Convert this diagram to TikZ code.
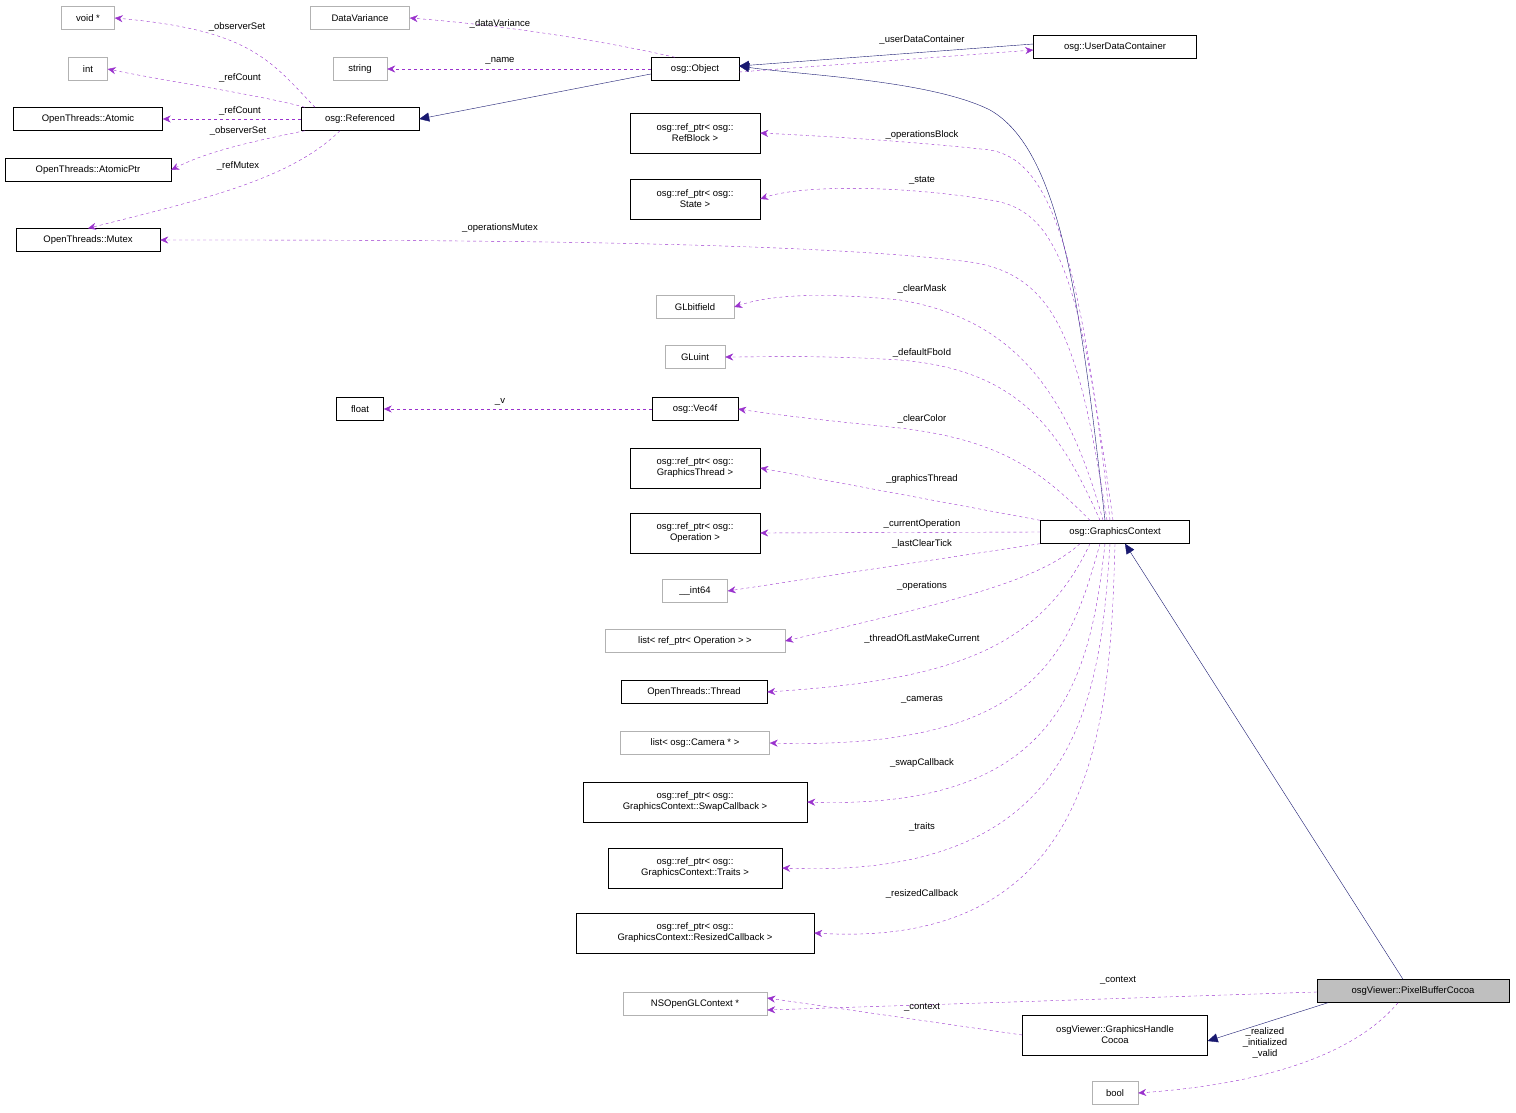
\documentclass[tikz,border=0pt]{standalone}
\usepackage{fontspec}
\setmainfont{Liberation Sans}
\usetikzlibrary{arrows.meta}
\definecolor{mem}{HTML}{9A32CD}
\definecolor{inh}{HTML}{191970}
\begin{document}
\begin{tikzpicture}[x=1pt,y=-1pt,font=\fontsize{9.5}{11}\selectfont,
 cls/.style={draw=black,fill=white,minimum height=23,inner sep=2,align=center},
 gcls/.style={cls,draw=black!30},
 twol/.style={cls,minimum height=40},
 memb/.style={draw=mem,dashed,-{Stealth[length=8,width=7]}},
 inher/.style={draw=inh,-{Triangle[length=10,width=9,fill=inh]}},
 lab/.style={inner sep=0,align=center}]
\useasboundingbox (0,0) rectangle (1516,1113);
\node[gcls,minimum width=53] (void) at (88,18) {void *};
\node[gcls,minimum width=39] (int) at (88,69) {int};
\node[cls,minimum width=149] (atomic) at (88,119) {OpenThreads::Atomic};
\node[cls,minimum width=166] (atomicptr) at (88,170) {OpenThreads::AtomicPtr};
\node[cls,minimum width=144] (mutex) at (88,240) {OpenThreads::Mutex};
\node[cls,minimum width=118] (ref) at (360,119) {osg::Referenced};
\node[gcls,minimum width=99] (dv) at (360,18) {DataVariance};
\node[gcls,minimum width=54] (str) at (360,69) {string};
\node[cls,minimum width=47] (float) at (360,409) {float};
\node[cls,minimum width=88] (obj) at (695,69) {osg::Object};
\node[cls,minimum width=163] (udc) at (1115,47) {osg::UserDataContainer};
\node[twol,minimum width=130] (rb) at (695,133) {osg::ref\_ptr< osg::\\RefBlock >};
\node[twol,minimum width=130] (st) at (695,199) {osg::ref\_ptr< osg::\\State >};
\node[gcls,minimum width=78] (glb) at (695,307) {GLbitfield};
\node[gcls,minimum width=60] (glu) at (695,357) {GLuint};
\node[cls,minimum width=86] (vec) at (695,409) {osg::Vec4f};
\node[twol,minimum width=130] (gt) at (695,468) {osg::ref\_ptr< osg::\\GraphicsThread >};
\node[twol,minimum width=130] (op) at (695,533) {osg::ref\_ptr< osg::\\Operation >};
\node[gcls,minimum width=65] (i64) at (695,591) {\_\_int64};
\node[gcls,minimum width=180] (lop) at (695,641) {list< ref\_ptr< Operation > >};
\node[cls,minimum width=146] (thr) at (694,692) {OpenThreads::Thread};
\node[gcls,minimum width=149] (lcam) at (695,743) {list< osg::Camera * >};
\node[twol,minimum width=224] (swap) at (695,802) {osg::ref\_ptr< osg::\\GraphicsContext::SwapCallback >};
\node[twol,minimum width=174] (tr) at (695,868) {osg::ref\_ptr< osg::\\GraphicsContext::Traits >};
\node[twol,minimum width=238] (rs) at (695,933) {osg::ref\_ptr< osg::\\GraphicsContext::ResizedCallback >};
\node[gcls,minimum width=144] (ns) at (695,1004) {NSOpenGLContext *};
\node[gcls,minimum width=46] (bool) at (1115,1093) {bool};
\node[cls,minimum width=149] (gc) at (1115,532) {osg::GraphicsContext};
\node[twol,minimum width=185] (ghc) at (1115,1035) {osgViewer::GraphicsHandle\\Cocoa};
\node[cls,minimum width=192,fill=black!25] (pbc) at (1413,991) {osgViewer::PixelBufferCocoa};

% Referenced members
\draw[memb] ([xshift=-45]ref.north) .. controls (270,60) and (250,30) .. (void.east);
\draw[memb] ([xshift=-55]ref.north) .. controls (260,95) and (160,80) .. (int.east);
\draw[memb] (ref.west) -- (atomic.east);
\draw[memb] ([xshift=-55]ref.south) .. controls (260,140) and (210,150) .. (atomicptr.east);
\draw[memb] ([xshift=-20]ref.south) .. controls (290,180) and (200,200) .. (mutex.north);
% Object
\draw[memb] ([xshift=-20]obj.north) .. controls (600,40) and (500,25) .. (dv.east);
\draw[memb] (obj.west) -- (str.east);
\draw[inher] (obj.west) ++(0,5) coordinate (o1) (o1) -- (ref.east);
\draw[memb] ([yshift=-3]obj.east) -- ([yshift=-3]udc.west);
\draw[inher] ([yshift=3]udc.west) -- ([yshift=3]obj.east);
\draw[inher] ([xshift=-10]gc.north) .. controls (1080,300) and (1060,150) .. (990,110) .. controls (930,80) and (800,75) .. ([yshift=3]obj.east);
% GraphicsContext members
\draw[memb] ([xshift=-5]gc.north) .. controls (1080,250) and (1050,160) .. (990,150) .. controls (900,140) and (800,135) .. (rb.east);
\draw[memb] ([xshift=-2]gc.north) .. controls (1080,280) and (1060,210) .. (990,200) .. controls (900,185) and (800,185) .. (st.east);
\draw[memb] ([xshift=-8]gc.north) .. controls (1080,350) and (1060,275) .. (970,262) .. controls (800,240) and (400,240) .. (mutex.east);
\draw[memb] ([xshift=-12]gc.north) .. controls (1070,400) and (1020,320) .. (900,300) .. controls (820,292) and (770,295) .. (glb.east);
\draw[memb] ([xshift=-15]gc.north) .. controls (1060,430) and (1020,370) .. (900,360) .. controls (820,355) and (760,357) .. (glu.east);
\draw[memb] (vec.west) -- (float.east);
\draw[memb] ([xshift=-25]gc.north) .. controls (1040,470) and (1000,440) .. (900,428) .. controls (820,420) and (770,414) .. (vec.east);
\draw[memb] ([xshift=-75]gc.north) -- (gt.east);
\draw[memb] (gc.west) -- (op.east);
\draw[memb] ([xshift=-75]gc.south) -- (i64.east);
\draw[memb] ([xshift=-35]gc.south) .. controls (1040,580) and (960,600) .. (lop.east);
\draw[memb] ([xshift=-25]gc.south) .. controls (1040,650) and (950,680) .. (thr.east);
\draw[memb] ([xshift=-15]gc.south) .. controls (1070,650) and (1040,750) .. (lcam.east);
\draw[memb] ([xshift=-10]gc.south) .. controls (1090,680) and (1060,810) .. (swap.east);
\draw[memb] ([xshift=-5]gc.south) .. controls (1100,700) and (1080,880) .. (tr.east);
\draw[memb] ([xshift=0]gc.south) .. controls (1110,720) and (1100,950) .. (rs.east);
% PixelBufferCocoa
\draw[inher] ([xshift=-10]pbc.north) -- ([xshift=10]gc.south);
\draw[inher] ([xshift=-85]pbc.south) -- ([yshift=-6]ghc.east);
\draw[memb] ([yshift=-1]pbc.west) -- ([yshift=-6]ns.east);
\draw[memb] (ghc.west) -- ([yshift=6]ns.east);
\draw[memb] ([xshift=-15]pbc.south) .. controls (1350,1060) and (1250,1085) .. (bool.east);
% labels
\node[lab] at (237,27) {\_observerSet};
\node[lab] at (240,78) {\_refCount};
\node[lab] at (240,111) {\_refCount};
\node[lab] at (238,131) {\_observerSet};
\node[lab] at (238,166) {\_refMutex};
\node[lab] at (500,24) {\_dataVariance};
\node[lab] at (500,61) {\_name};
\node[lab] at (922,40) {\_userDataContainer};
\node[lab] at (922,135) {\_operationsBlock};
\node[lab] at (922,180) {\_state};
\node[lab] at (500,228) {\_operationsMutex};
\node[lab] at (922,289) {\_clearMask};
\node[lab] at (922,353) {\_defaultFboId};
\node[lab] at (500,402) {\_v};
\node[lab] at (922,419) {\_clearColor};
\node[lab] at (922,479) {\_graphicsThread};
\node[lab] at (922,524) {\_currentOperation};
\node[lab] at (922,544) {\_lastClearTick};
\node[lab] at (922,586) {\_operations};
\node[lab] at (922,639) {\_threadOfLastMakeCurrent};
\node[lab] at (922,700) {\_cameras};
\node[lab] at (922,763) {\_swapCallback};
\node[lab] at (922,827) {\_traits};
\node[lab] at (922,894) {\_resizedCallback};
\node[lab] at (1118,980) {\_context};
\node[lab] at (922,1007) {\_context};
\node[lab] at (1265,1043) {\_realized\\\_initialized\\\_valid};
\end{tikzpicture}
\end{document}
